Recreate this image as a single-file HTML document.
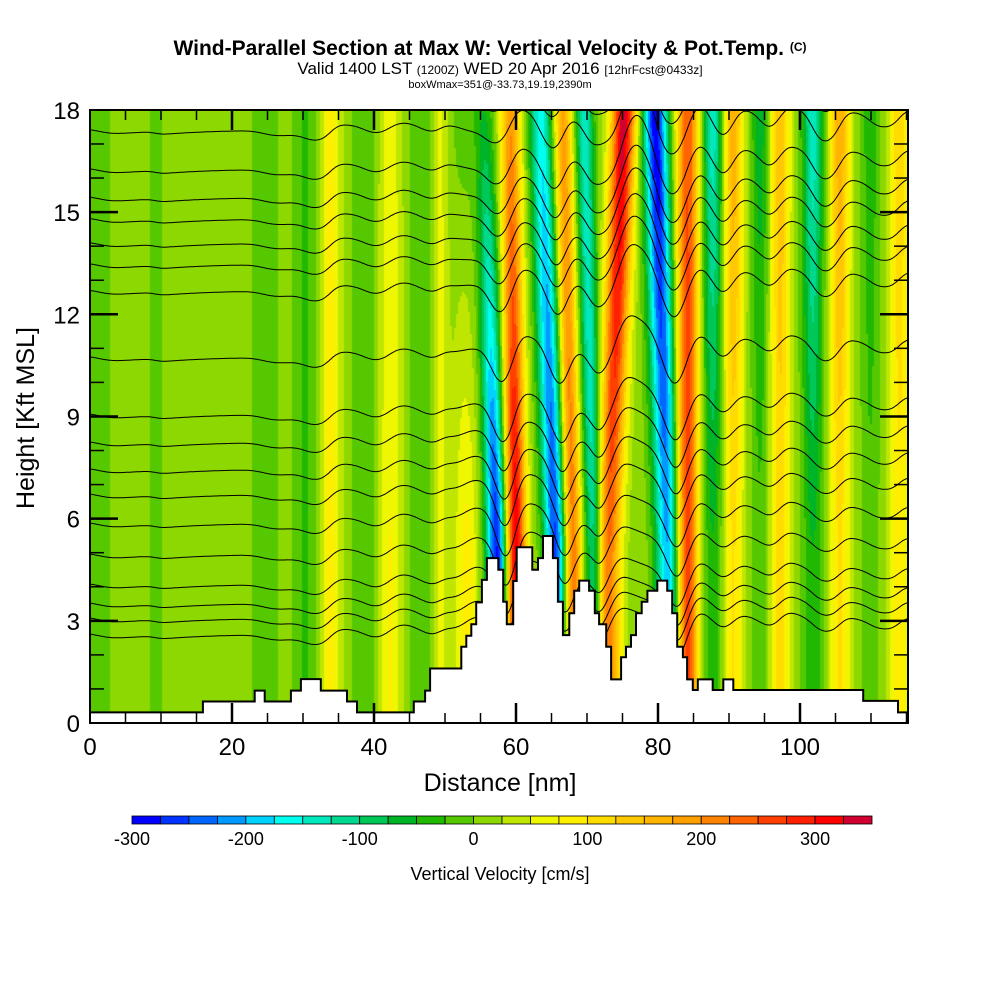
<!DOCTYPE html>
<html><head><meta charset="utf-8">
<style>
html,body{margin:0;padding:0;background:#fff;}
#wrap{position:relative;width:1000px;height:1000px;overflow:hidden;font-family:"Liberation Sans",Arial,sans-serif;}
#field{position:absolute;left:90px;top:110px;}
#ov{position:absolute;left:0;top:0;}
</style></head>
<body>
<div id="wrap">
<canvas id="field" width="818" height="613"></canvas>
<svg id="ov" width="1000" height="1000" xmlns="http://www.w3.org/2000/svg">
  <defs><clipPath id="pc"><rect x="90" y="110" width="818" height="613"/></clipPath></defs>
  <g id="contours" clip-path="url(#pc)"></g>
  <g id="terrain"></g>
  <rect x="90" y="110" width="818" height="613" fill="none" stroke="#000" stroke-width="2"/>
  <g id="ticks"></g>
  <text x="490" y="55" text-anchor="middle" font-size="21" font-weight="bold">Wind-Parallel Section at Max W: Vertical Velocity &amp; Pot.Temp. <tspan font-size="12" dy="-4">(C)</tspan></text>
  <text x="500" y="74" text-anchor="middle" font-size="17">Valid 1400 LST <tspan font-size="12">(1200Z)</tspan> WED 20 Apr 2016 <tspan font-size="12">[12hrFcst@0433z]</tspan></text>
  <text x="500" y="88" text-anchor="middle" font-size="11">boxWmax=351@-33.73,19.19,2390m</text>
  <text x="500" y="791" text-anchor="middle" font-size="25">Distance [nm]</text>
  <text transform="translate(34,418) rotate(-90)" text-anchor="middle" font-size="25">Height [Kft MSL]</text>
  <g id="cbar"></g>
  <text x="500" y="880" text-anchor="middle" font-size="18">Vertical Velocity [cm/s]</text>
</svg>
</div>
<script>
// ---- data ----
const xTicks=[0,20,40,60,80,100];
const yTicks=[0,3,6,9,12,15,18];
const cbTicks=[-300,-200,-100,0,100,200,300];
const bgW=12;
// vertical-velocity bands (cm/s), positions in nm at 5 kft (bot) and 18 kft (top)
const stripeNmBot=[1.4,9.2,24.6,30.3,33.9,38.7,42.3,46.5,49.3,53.0,57.3,60.0,65.6,68.0,71.0,73.0,81.4,84.1,87.7,90.6,94.4,97.2,101.8,105.6,109.9,114.0];
const stripeNmTop=[1.4,9.2,24.6,30.3,33.9,38.7,42.3,46.5,49.3,52.5,55.5,59.2,63.4,66.6,69.6,75.2,79.6,84.2,87.7,90.6,94.4,97.2,101.8,105.6,109.9,114.0];
const stripeWBot=[-20,-20,-25,-40,75,-35,65,-35,45,75,-300,320,-275,220,-150,220,-220,260,-60,90,-30,100,-60,90,-30,80];
const stripeWTop=[-20,-20,-25,-40,75,-35,50,-35,45,-30,-60,180,-175,170,-150,330,-310,235,-160,160,-80,135,-160,160,-55,110];
const stripeWidthNm=[1.5,0.8,1.5,1.2,1.0,1.2,1.2,1.2,0.8,1.2,1.0,1.0,1.1,0.9,0.9,1.2,1.2,1.1,1.0,1.0,0.9,1.0,1.0,1.0,0.9,1.0];
// terrain steps
const terrainNm=[0,15.9,23.2,24.6,28.3,29.7,32.5,36.2,37.6,45.6,47.2,47.9,52.3,53.0,53.7,54.4,55.2,55.9,57.5,58.2,58.7,59.6,60.1,62.3,63.1,63.8,65.2,65.9,66.6,67.5,68.2,68.9,70.3,71.1,71.7,72.7,73.4,74.8,75.5,76.2,76.9,77.7,78.5,79.9,81.3,82.0,82.7,83.5,84.1,84.9,85.6,87.7,89.2,90.6,108.9,113.8];
const terrainKft=[0.31,0.63,0.95,0.63,0.95,1.29,0.95,0.63,0.31,0.63,0.95,1.6,2.24,2.56,2.9,3.54,4.2,4.84,4.5,3.56,2.9,4.17,5.16,4.5,4.84,5.49,4.84,3.56,2.58,3.22,3.88,4.18,3.88,3.22,2.9,2.24,1.28,1.93,2.24,2.58,3.22,3.56,3.88,4.18,3.88,3.22,2.24,1.93,1.28,0.97,1.28,0.97,1.28,0.97,0.65,0.31];
// potential temperature contour starting heights (kft) at left edge
const thetaStartKft=[18.3,17.42,16.27,15.44,14.81,14.10,13.48,12.70,10.75,9.07,8.25,7.46,6.72,5.87,4.96,4.08,3.52,3.08,2.61];
const cbColors=['#0000ff','#0033ff','#0066ff','#0099ff','#00d2ff','#00ffee','#00e8bb','#00d890','#00c858','#00b428','#20b800','#55c800','#8cd800','#bee600','#eef700','#ffee00','#ffdc00','#ffc800','#ffb400','#ffa000','#ff8200','#ff6400','#ff4000','#ff2000','#ff0000','#d00030'];

// ---- scales ----
const X0=90,PX_NM=7.1,Y0=723,PX_K=34.06,XMAX=115.2;
const xs=nm=>X0+nm*PX_NM;
const ys=h=>Y0-h*PX_K;
const ns='http://www.w3.org/2000/svg';
function wAt(nm,h){
  let t=(h-5)/13; if(t<0)t=0; if(t>1.1)t=1.1;
  let v=bgW;
  for(let i=0;i<stripeNmBot.length;i++){
    const c=stripeNmBot[i]+(stripeNmTop[i]-stripeNmBot[i])*t;
    const a=stripeWBot[i]+(stripeWTop[i]-stripeWBot[i])*Math.min(t,1);
    const d=(nm-c)/stripeWidthNm[i];
    if(d>-4&&d<4) v+=a*Math.exp(-0.5*d*d);
  }
  return v;
}
function colorOf(v){let i=Math.floor((v+300)/25);if(i<0)i=0;if(i>25)i=25;return cbColors[i];}

// ---- field ----
const ctx=document.getElementById('field').getContext('2d');
const S=2;
for(let py=0;py<613;py+=S){
  const h=(Y0-(110+py+S/2))/PX_K;
  for(let px=0;px<818;px+=S){
    const nm=(px+S/2)/PX_NM;
    ctx.fillStyle=colorOf(wAt(nm,h));
    ctx.fillRect(px,py,S,S);
  }
}

// ---- contours ----
const cg=document.getElementById('contours');
const K=0.0024,LEAK=8;
thetaStartKft.forEach((h0,j)=>{
  let eta=0,pts=[];
  const dx=0.1;
  for(let nm=0;nm<=XMAX+0.05;nm+=dx){
    pts.push(xs(nm).toFixed(1)+','+ys(h0+eta).toFixed(1));
    eta+=K*(wAt(nm,h0+eta)-bgW)*dx-eta*dx/LEAK;
  }
  const p=document.createElementNS(ns,'polyline');
  p.setAttribute('points',pts.join(' '));
  p.setAttribute('fill','none');p.setAttribute('stroke','#000');p.setAttribute('stroke-width','1');
  
  
  cg.appendChild(p);
});

// ---- terrain ----
(function(){
  let d='M'+xs(0)+','+ys(0);
  for(let i=0;i<terrainNm.length;i++){
    const x1=xs(terrainNm[i]),x2=xs(i+1<terrainNm.length?terrainNm[i+1]:XMAX),y=ys(terrainKft[i]);
    d+=' L'+x1.toFixed(1)+','+y.toFixed(1)+' L'+x2.toFixed(1)+','+y.toFixed(1);
  }
  d+=' L'+xs(XMAX)+','+ys(0)+' Z';
  const p=document.createElementNS(ns,'path');
  p.setAttribute('d',d);p.setAttribute('fill','#fff');p.setAttribute('stroke','#000');p.setAttribute('stroke-width','2');
  
  
  document.getElementById('terrain').appendChild(p);
})();

// ---- ticks & labels ----
const tg=document.getElementById('ticks');
function line(x1,y1,x2,y2,w,name){
  const l=document.createElementNS(ns,'line');
  l.setAttribute('x1',x1);l.setAttribute('y1',y1);l.setAttribute('x2',x2);l.setAttribute('y2',y2);
  l.setAttribute('stroke','#000');l.setAttribute('stroke-width',w);
  
  
  tg.appendChild(l);
}
function text(x,y,s,size,anchor,name,parent){
  const t=document.createElementNS(ns,'text');
  t.setAttribute('x',x);t.setAttribute('y',y);t.setAttribute('font-size',size);t.setAttribute('text-anchor',anchor);
  t.textContent=s;
  
  
  (parent||tg).appendChild(t);
}
for(let nm=5;nm<XMAX;nm+=5){
  const major=nm%20===0, L=major?20:10, x=xs(nm);
  line(x,723,x,723-L,major?2.5:1.5,'x-tick');
  line(x,110,x,110+L,major?2.5:1.5,'x-tick-top');
}
for(let h=1;h<18;h++){
  const major=h%3===0, L=major?28:14, y=ys(h);
  line(90,y,90+L,y,major?2.5:1.5,'y-tick');
  line(908,y,908-L,y,major?2.5:1.5,'y-tick-right');
}
xTicks.forEach(v=>text(xs(v),755,String(v),24,'middle','x-tick-label'));
yTicks.forEach(v=>text(80,ys(v)+9,String(v),24,'end','y-tick-label'));

// ---- colorbar ----
const cb=document.getElementById('cbar');
const CB0=132,CBW=740/26;
cbColors.forEach((c,i)=>{
  const r=document.createElementNS(ns,'rect');
  r.setAttribute('x',CB0+i*CBW);r.setAttribute('y',816);r.setAttribute('width',CBW);r.setAttribute('height',8);
  r.setAttribute('fill',c);r.setAttribute('stroke','#000');r.setAttribute('stroke-width','0.8');
  
  
  cb.appendChild(r);
});
cbTicks.forEach(v=>text(CB0+(v+300)/25*CBW,845,String(v),18,'middle','colorbar-tick-label',cb));
</script>
</body></html>
